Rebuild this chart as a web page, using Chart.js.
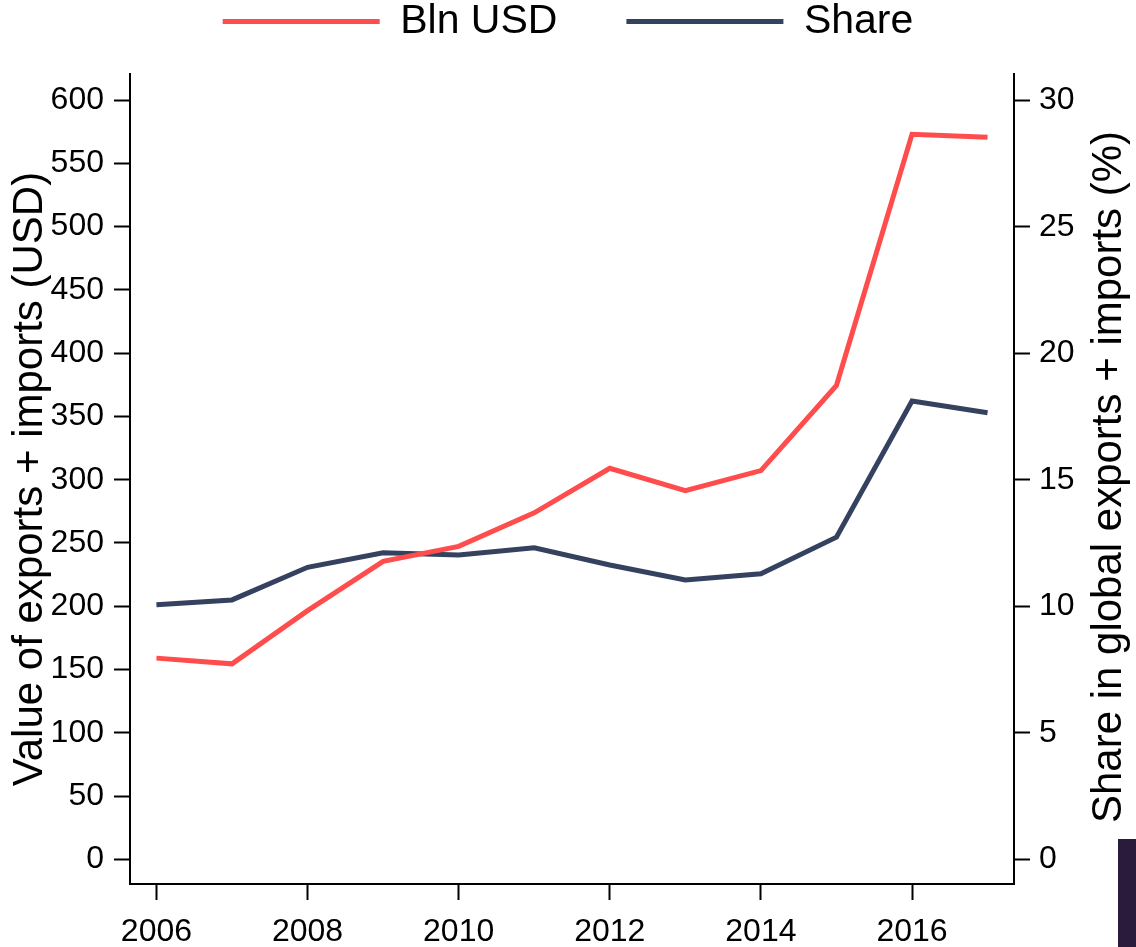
<!DOCTYPE html>
<html>
<head>
<meta charset="utf-8">
<title>Exports + imports</title>
<script src="https://cdn.jsdelivr.net/npm/chart.js@4.4.1/dist/chart.umd.min.js"></script>
<style>
  html, body { margin: 0; padding: 0; background: #fff; }
  #wrap { position: relative; width: 1136px; height: 947px; }
  #corner { position: absolute; left: 1118px; top: 839px; width: 18px; height: 108px; background: #2a1a3b; }
</style>
</head>
<body>
<div id="wrap">
  <canvas id="chart"></canvas>
  <div id="corner"></div>
</div>
<script>
// data
const years = [2006, 2007, 2008, 2009, 2010, 2011, 2012, 2013, 2014, 2015, 2016, 2017];
const blnUsd = [159, 154.5, 196.5, 235.5, 247.3, 273.8, 309, 291.4, 307.2, 374.5, 572.9, 570.7];
const sharePct = [10.06, 10.25, 11.54, 12.11, 12.03, 12.31, 11.63, 11.04, 11.28, 12.73, 18.11, 17.65];

const yearTicks = [2006, 2008, 2010, 2012, 2014, 2016];
const usdTicks = [0, 50, 100, 150, 200, 250, 300, 350, 400, 450, 500, 550, 600];
const shareTicks = [0, 5, 10, 15, 20, 25, 30];

const RED = '#ff4c4c';
const NAVY = '#34415f';
const FONT = '"Liberation Sans", Arial, sans-serif';

function toPoints(vals){
  return vals.map((v, i) => ({ x: years[i], y: v }));
}

function fixTicks(list){
  return scale => { scale.ticks = list.map(v => ({ value: v })); };
}

const axisCommon = {
  border: { display: true, color: '#000', width: 2 },
  grid: { drawOnChartArea: false, drawTicks: true, tickLength: 16, tickWidth: 2, tickColor: '#000' },
};

// right-hand title reads bottom-to-top, so draw it here
const rightTitle = {
  id: 'rightTitle',
  afterDraw(chart){
    const { ctx, chartArea } = chart;
    ctx.save();
    ctx.translate(1109, (chartArea.top + chartArea.bottom) / 2 - 2);
    ctx.rotate(-Math.PI / 2);
    ctx.font = '42px ' + FONT;
    ctx.fillStyle = '#000';
    ctx.textAlign = 'center';
    ctx.textBaseline = 'middle';
    ctx.fillText('Share in global exports + imports (%)', 0, 0);
    ctx.restore();
  }
};

new Chart(document.getElementById('chart'), {
  type: 'line',
  data: {
    datasets: [
      {
        label: 'Bln USD',
        data: toPoints(blnUsd),
        yAxisID: 'y',
        borderColor: RED,
        backgroundColor: RED,
        borderWidth: 5,
        pointRadius: 0,
        tension: 0,
        borderJoinStyle: 'miter',
      },
      {
        label: 'Share',
        data: toPoints(sharePct),
        yAxisID: 'y2',
        borderColor: NAVY,
        backgroundColor: NAVY,
        borderWidth: 5,
        pointRadius: 0,
        tension: 0,
        borderJoinStyle: 'miter',
      }
    ]
  },
  options: {
    responsive: true,
    maintainAspectRatio: false,
    animation: false,
    layout: { padding: { top: -68, left: 0, right: 0, bottom: 0 } },
    plugins: {
      legend: {
        position: 'top',
        labels: {
          boxWidth: 157,
          boxHeight: 5,
          padding: 69,
          color: '#000',
          font: { family: FONT, size: 41 },
          generateLabels: chart => Chart.defaults.plugins.legend.labels.generateLabels(chart)
            .map(l => ({ ...l, lineWidth: 0, fillStyle: l.strokeStyle })),
        }
      },
      // empty title used as a spacer under the legend
      title: {
        display: true,
        text: '',
        weight: 500,
        font: { size: 10, lineHeight: 1 },
        padding: { top: 12, bottom: 0 },
      },
      tooltip: { enabled: false }
    },
    scales: {
      x: {
        ...axisCommon,
        type: 'linear',
        position: 'bottom',
        min: 2005.65,
        max: 2017.35,
        afterBuildTicks: fixTicks(yearTicks),
        afterFit: s => { s.height = 63; },
        ticks: {
          color: '#000',
          font: { family: FONT, size: 32 },
          padding: 13,
          maxRotation: 0,
          autoSkip: false,
          callback: v => String(v),
        }
      },
      y: {
        ...axisCommon,
        type: 'linear',
        position: 'left',
        min: -19.5,
        max: 620.6,
        afterBuildTicks: fixTicks(usdTicks),
        afterFit: s => { s.width = 130; },
        ticks: {
          color: '#000',
          font: { family: FONT, size: 32 },
          padding: 10,
          autoSkip: false,
          callback: v => String(v),
        },
        title: {
          display: true,
          text: 'Value of exports + imports (USD)',
          color: '#000',
          font: { family: FONT, size: 42 },
          padding: { top: 5, bottom: 0 },
        }
      },
      y2: {
        ...axisCommon,
        type: 'linear',
        position: 'right',
        min: -0.98,
        max: 31.04,
        afterBuildTicks: fixTicks(shareTicks),
        afterFit: s => { s.width = 122; },
        ticks: {
          color: '#000',
          font: { family: FONT, size: 32 },
          padding: 9,
          autoSkip: false,
          callback: v => String(v),
        }
      }
    }
  },
  plugins: [rightTitle]
});
</script>
</body>
</html>
